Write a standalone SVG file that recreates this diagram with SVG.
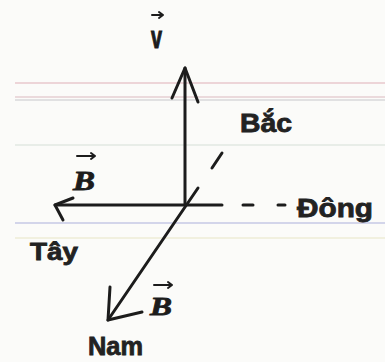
<svg xmlns="http://www.w3.org/2000/svg" width="385" height="362" viewBox="0 0 385 362">
<style>
.bg{fill:#fbfbf9}
.rule{fill:none;stroke-width:1.5}
.ln{fill:none;stroke:#1c1c1c;stroke-width:3;stroke-linecap:round;stroke-linejoin:round}
.thin{fill:none;stroke:#1c1c1c;stroke-width:2;stroke-linecap:round;stroke-linejoin:round}
.lbl{font-family:"Liberation Sans","DejaVu Sans",sans-serif;font-weight:bold;fill:#222;stroke:#222;stroke-width:0.8}
.vec{font-family:"Liberation Serif","DejaVu Serif",serif;font-weight:bold;font-style:italic;fill:#1c1c1c;stroke:#1c1c1c;stroke-width:0.8}
.vup{font-family:"Liberation Sans","DejaVu Sans",sans-serif;font-weight:bold;fill:#1c1c1c;stroke:#1c1c1c;stroke-width:0.8}
</style>
<rect class="bg" x="0" y="0" width="385" height="362"/>
<g id="paper-lines">
<line class="rule" x1="15" y1="83" x2="385" y2="83" stroke="#e8c8cc"/>
<line class="rule" x1="15" y1="97" x2="385" y2="97" stroke="#e6cfd2"/>
<line class="rule" x1="15" y1="100" x2="385" y2="100" stroke="#d8d8da"/>
<line class="rule" x1="15" y1="145" x2="385" y2="145" stroke="#e2e8e2"/>
<line class="rule" x1="15" y1="223" x2="385" y2="223" stroke="#c6c8e4"/>
<line class="rule" x1="15" y1="238" x2="385" y2="238" stroke="#eeecd6"/>
</g>
<g id="connectors">
<path class="ln" d="M185,205 L185,68"/>
<polyline class="ln" points="172,98 185,68 198,102"/>
<path class="ln" d="M222,205 L55,205"/>
<polyline class="ln" points="73,198 55,205 63,220"/>
<path class="ln" d="M243,205 L253,205 M278,205 L285,205"/>
<path class="ln" d="M198,188 L108,320"/>
<polyline class="ln" points="110,287 108,320 142,312"/>
<path class="ln" d="M212,168 L222,153"/>
</g>
<g id="label-v">
<path class="thin" d="M152,15 L163,15 M159,12 L163,15 L159,18"/>
<text class="vup" transform="translate(151,48) scale(0.9,1.4)" font-size="22">v</text>
</g>
<g id="label-bac">
<text class="lbl" x="240" y="132" font-size="25" textLength="52" lengthAdjust="spacingAndGlyphs">Bắc</text>
</g>
<g id="label-B-west">
<path class="thin" d="M77,156 L95,156 M91,153 L95,156 L91,159"/>
<text class="vec" x="73" y="190" font-size="27" textLength="22" lengthAdjust="spacingAndGlyphs">B</text>
</g>
<g id="label-dong">
<text class="lbl" x="297" y="217" font-size="26" textLength="76" lengthAdjust="spacingAndGlyphs">Đông</text>
</g>
<g id="label-tay">
<text class="lbl" x="30" y="260" font-size="24" textLength="48" lengthAdjust="spacingAndGlyphs">Tây</text>
</g>
<g id="label-B-south">
<path class="thin" d="M154,285 L172,285 M168,282 L172,285 L168,288"/>
<text class="vec" x="150" y="315" font-size="26" textLength="22" lengthAdjust="spacingAndGlyphs">B</text>
</g>
<g id="label-nam">
<text class="lbl" x="88" y="355" font-size="25" textLength="55" lengthAdjust="spacingAndGlyphs">Nam</text>
</g>
</svg>
